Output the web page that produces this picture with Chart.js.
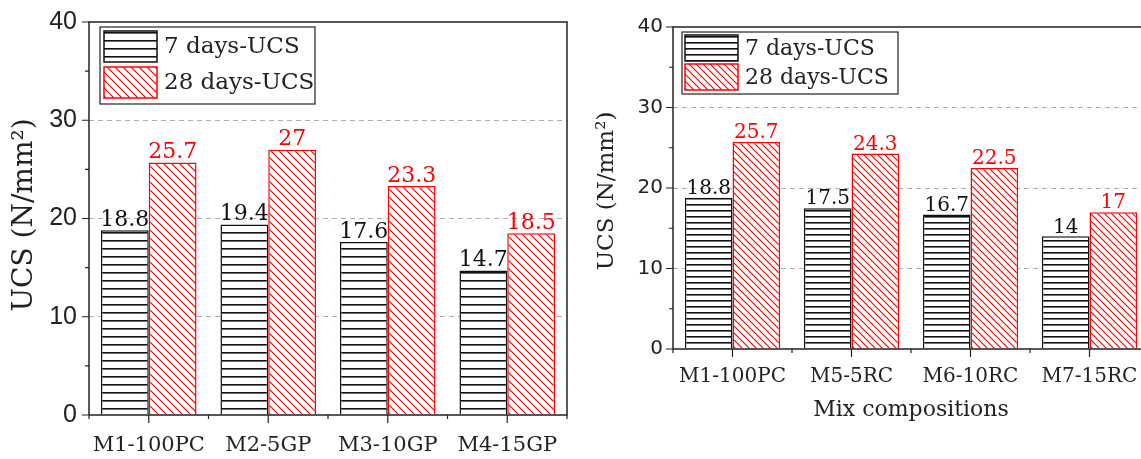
<!DOCTYPE html>
<html>
<head>
<meta charset="utf-8">
<script src="https://cdn.jsdelivr.net/npm/chart.js@4.4.1/dist/chart.umd.min.js"></script>
<style>
    html, body { margin: 0; padding: 0; background: #fff; overflow: hidden; }
    #wrap { position: relative; width: 1141px; height: 459px; overflow: hidden; }
    #leftBox { position: absolute; left: 0; top: 0; width: 590px; height: 459px; }
    #rightBox { position: absolute; left: 590px; top: 0; width: 570px; height: 459px; }
</style>
</head>
<body>
<div id="wrap">
    <div id="leftBox"><canvas id="leftChart" width="590" height="459"></canvas></div>
    <div id="rightBox"><canvas id="rightChart" width="570" height="459"></canvas></div>
</div>
<script>
// data
const leftCategories = ["M1-100PC", "M2-5GP", "M3-10GP", "M4-15GP"];
const leftDay7 = [18.8, 19.4, 17.6, 14.7];
const leftDay28 = [25.7, 27, 23.3, 18.5];

const rightCategories = ["M1-100PC", "M5-5RC", "M6-10RC", "M7-15RC"];
const rightDay7 = [18.8, 17.5, 16.7, 14];
const rightDay28 = [25.7, 24.3, 22.5, 17];

const seriesNames = ["7 days-UCS", "28 days-UCS"];
const yTicks = [0, 10, 20, 30, 40];
const yMinorTicks = [5, 15, 25, 35];

const SERIF = "'DejaVu Serif', serif";

function hLinePattern(gap, color) {
    const c = document.createElement("canvas");
    c.width = 4;
    c.height = gap;
    const g = c.getContext("2d");
    g.fillStyle = "#fff";
    g.fillRect(0, 0, 4, gap);
    g.fillStyle = color;
    g.fillRect(0, 0, 4, 1.6);
    return g.createPattern(c, "repeat");
}

function diagPattern(gap, color) {
    const c = document.createElement("canvas");
    c.width = gap;
    c.height = gap;
    const g = c.getContext("2d");
    g.fillStyle = "#fff";
    g.fillRect(0, 0, gap, gap);
    g.strokeStyle = color;
    g.lineWidth = 1.2;
    g.beginPath();
    g.moveTo(-1, -1); g.lineTo(gap + 1, gap + 1);
    g.moveTo(-1, gap - 1); g.lineTo(1, gap + 1);
    g.moveTo(gap - 1, -1); g.lineTo(gap + 1, 1);
    g.stroke();
    return g.createPattern(c, "repeat");
}

// frame, ticks, legend, labels
const decorPlugin = {
    id: "decor",
    afterDraw(chart, args, o) {
        const ctx = chart.ctx;
        const a = chart.chartArea;
        const x = chart.scales.x;
        const y = chart.scales.y;
        ctx.save();

        // frame
        ctx.strokeStyle = "#222";
        ctx.lineWidth = 1.5;
        ctx.beginPath();
        ctx.moveTo(a.left, a.bottom);
        ctx.lineTo(a.left, a.top);
        ctx.lineTo(a.right, a.top);
        ctx.lineTo(a.right, a.bottom);
        ctx.lineTo(a.left, a.bottom);
        ctx.stroke();

        // y ticks
        ctx.lineWidth = 1.2;
        ctx.beginPath();
        yTicks.forEach(v => {
            const py = y.getPixelForValue(v);
            ctx.moveTo(a.left, py); ctx.lineTo(a.left - 7, py);
        });
        yMinorTicks.forEach(v => {
            const py = y.getPixelForValue(v);
            ctx.moveTo(a.left, py); ctx.lineTo(a.left - 4, py);
        });
        // x ticks
        const n = chart.data.labels.length;
        for (let i = 0; i < n; i++) {
            const px = x.getPixelForValue(i);
            ctx.moveTo(px, a.bottom); ctx.lineTo(px, a.bottom + 8);
        }
        for (let i = 0; i <= n; i++) {
            const px = x.getPixelForValue(i - 0.5);
            ctx.moveTo(px, a.bottom); ctx.lineTo(px, a.bottom + 4);
        }
        ctx.stroke();

        // value labels
        ctx.font = o.valueFont + "px " + SERIF;
        ctx.textAlign = "center";
        ctx.textBaseline = "bottom";
        chart.data.datasets.forEach((ds, di) => {
            const meta = chart.getDatasetMeta(di);
            ctx.fillStyle = di === 0 ? "#111" : "#ff0000";
            meta.data.forEach((bar, i) => {
                ctx.fillText(String(ds.data[i]), bar.x, bar.y + 1);
            });
        });

        // legend
        const L = o.legend;
        ctx.fillStyle = "#fff";
        ctx.fillRect(L.x, L.y, L.w, L.h);
        ctx.strokeStyle = "#222";
        ctx.lineWidth = 1.2;
        ctx.strokeRect(L.x, L.y, L.w, L.h);
        chart.data.datasets.forEach((ds, di) => {
            const sy = L.y + L.pad + di * (L.sh + L.gap);
            ctx.fillStyle = ds.backgroundColor;
            ctx.fillRect(L.x + L.pad, sy, L.sw, L.sh);
            ctx.strokeStyle = ds.borderColor;
            ctx.lineWidth = 1.5;
            ctx.strokeRect(L.x + L.pad, sy, L.sw, L.sh);
            ctx.fillStyle = "#222";
            ctx.font = L.font + "px " + SERIF;
            ctx.textAlign = "left";
            ctx.textBaseline = "middle";
            ctx.fillText(ds.label, L.x + L.pad + L.sw + 7, sy + L.sh / 2 + 1);
        });

        // axis titles
        ctx.fillStyle = "#222";
        ctx.font = o.yTitle.font + "px " + SERIF;
        ctx.textAlign = "center";
        ctx.textBaseline = "middle";
        ctx.save();
        ctx.translate(o.yTitle.x, o.yTitle.y);
        ctx.rotate(-Math.PI / 2);
        ctx.fillText("UCS (N/mm²)", 0, 0);
        ctx.restore();
        if (o.xTitle) {
            ctx.font = o.xTitle.font + "px " + SERIF;
            ctx.fillText(o.xTitle.text, (a.left + a.right) / 2, o.xTitle.y);
        }
        ctx.restore();
    }
};

function makeChart(id, labels, d7, d28, cfg) {
    const ctx = document.getElementById(id).getContext("2d");
    return new Chart(ctx, {
        type: "bar",
        data: {
            labels: labels,
            datasets: [{
                label: seriesNames[0],
                data: d7,
                backgroundColor: hLinePattern(cfg.hGap, "#111"),
                borderColor: "#111",
                borderWidth: 1.5,
                borderSkipped: "bottom"
            }, {
                label: seriesNames[1],
                data: d28,
                backgroundColor: diagPattern(cfg.dGap, "#ff0000"),
                borderColor: "#ff0000",
                borderWidth: 1.5,
                borderSkipped: "bottom"
            }]
        },
        options: {
            responsive: false,
            animation: false,
            events: [],
            layout: { padding: cfg.padding },
            categoryPercentage: 0.8,
            barPercentage: 1.0,
            plugins: {
                legend: { display: false },
                tooltip: { enabled: false },
                decor: cfg.decor
            },
            scales: {
                x: {
                    grid: { display: false },
                    border: { display: false },
                    ticks: {
                        color: "#222",
                        padding: cfg.xPad,
                        font: { family: SERIF, size: cfg.xFont },
                        maxRotation: 0,
                        autoSkip: false
                    },
                    afterFit: s => { s.height = cfg.xHeight; }
                },
                y: {
                    min: 0,
                    max: 40,
                    grid: {
                        drawTicks: false,
                        color: c => (c.tick.value === 0 || c.tick.value === 40) ? "rgba(0,0,0,0)" : "#b0b0b0",
                        lineWidth: 1
                    },
                    border: { display: false, dash: [5, 4] },
                    ticks: {
                        stepSize: 10,
                        color: "#222",
                        padding: cfg.yPad,
                        font: { family: cfg.yFamily, size: cfg.yFont, lineHeight: 0.8 }
                    },
                    afterFit: s => { s.width = cfg.yWidth; }
                }
            }
        },
        plugins: [decorPlugin]
    });
}

makeChart("leftChart", leftCategories, leftDay7, leftDay28, {
    hGap: 8, dGap: 8,
    padding: { left: 0, top: 22, right: 23, bottom: 0 },
    xPad: 10, xFont: 21, xHeight: 44,
    yPad: 12, yFont: 25, yWidth: 89, yFamily: "'Liberation Sans', sans-serif",
    decor: {
        valueFont: 22,
        legend: { x: 100, y: 27, w: 215, h: 77, pad: 4, sw: 53, sh: 31, gap: 5, font: 23 },
        yTitle: { x: 25, y: 215, font: 28 }
    }
});

makeChart("rightChart", rightCategories, rightDay7, rightDay28, {
    hGap: 6.5, dGap: 7,
    padding: { left: 0, top: 27, right: 11, bottom: 0 },
    xPad: 8, xFont: 20, xHeight: 110,
    yPad: 10, yFont: 20, yWidth: 83, yFamily: "'DejaVu Sans', sans-serif",
    decor: {
        valueFont: 20,
        legend: { x: 92, y: 32, w: 216, h: 62, pad: 3, sw: 53, sh: 26, gap: 3, font: 22 },
        yTitle: { x: 17, y: 191, font: 23 },
        xTitle: { text: "Mix compositions", y: 410, font: 22 }
    }
});
</script>
</body>
</html>
